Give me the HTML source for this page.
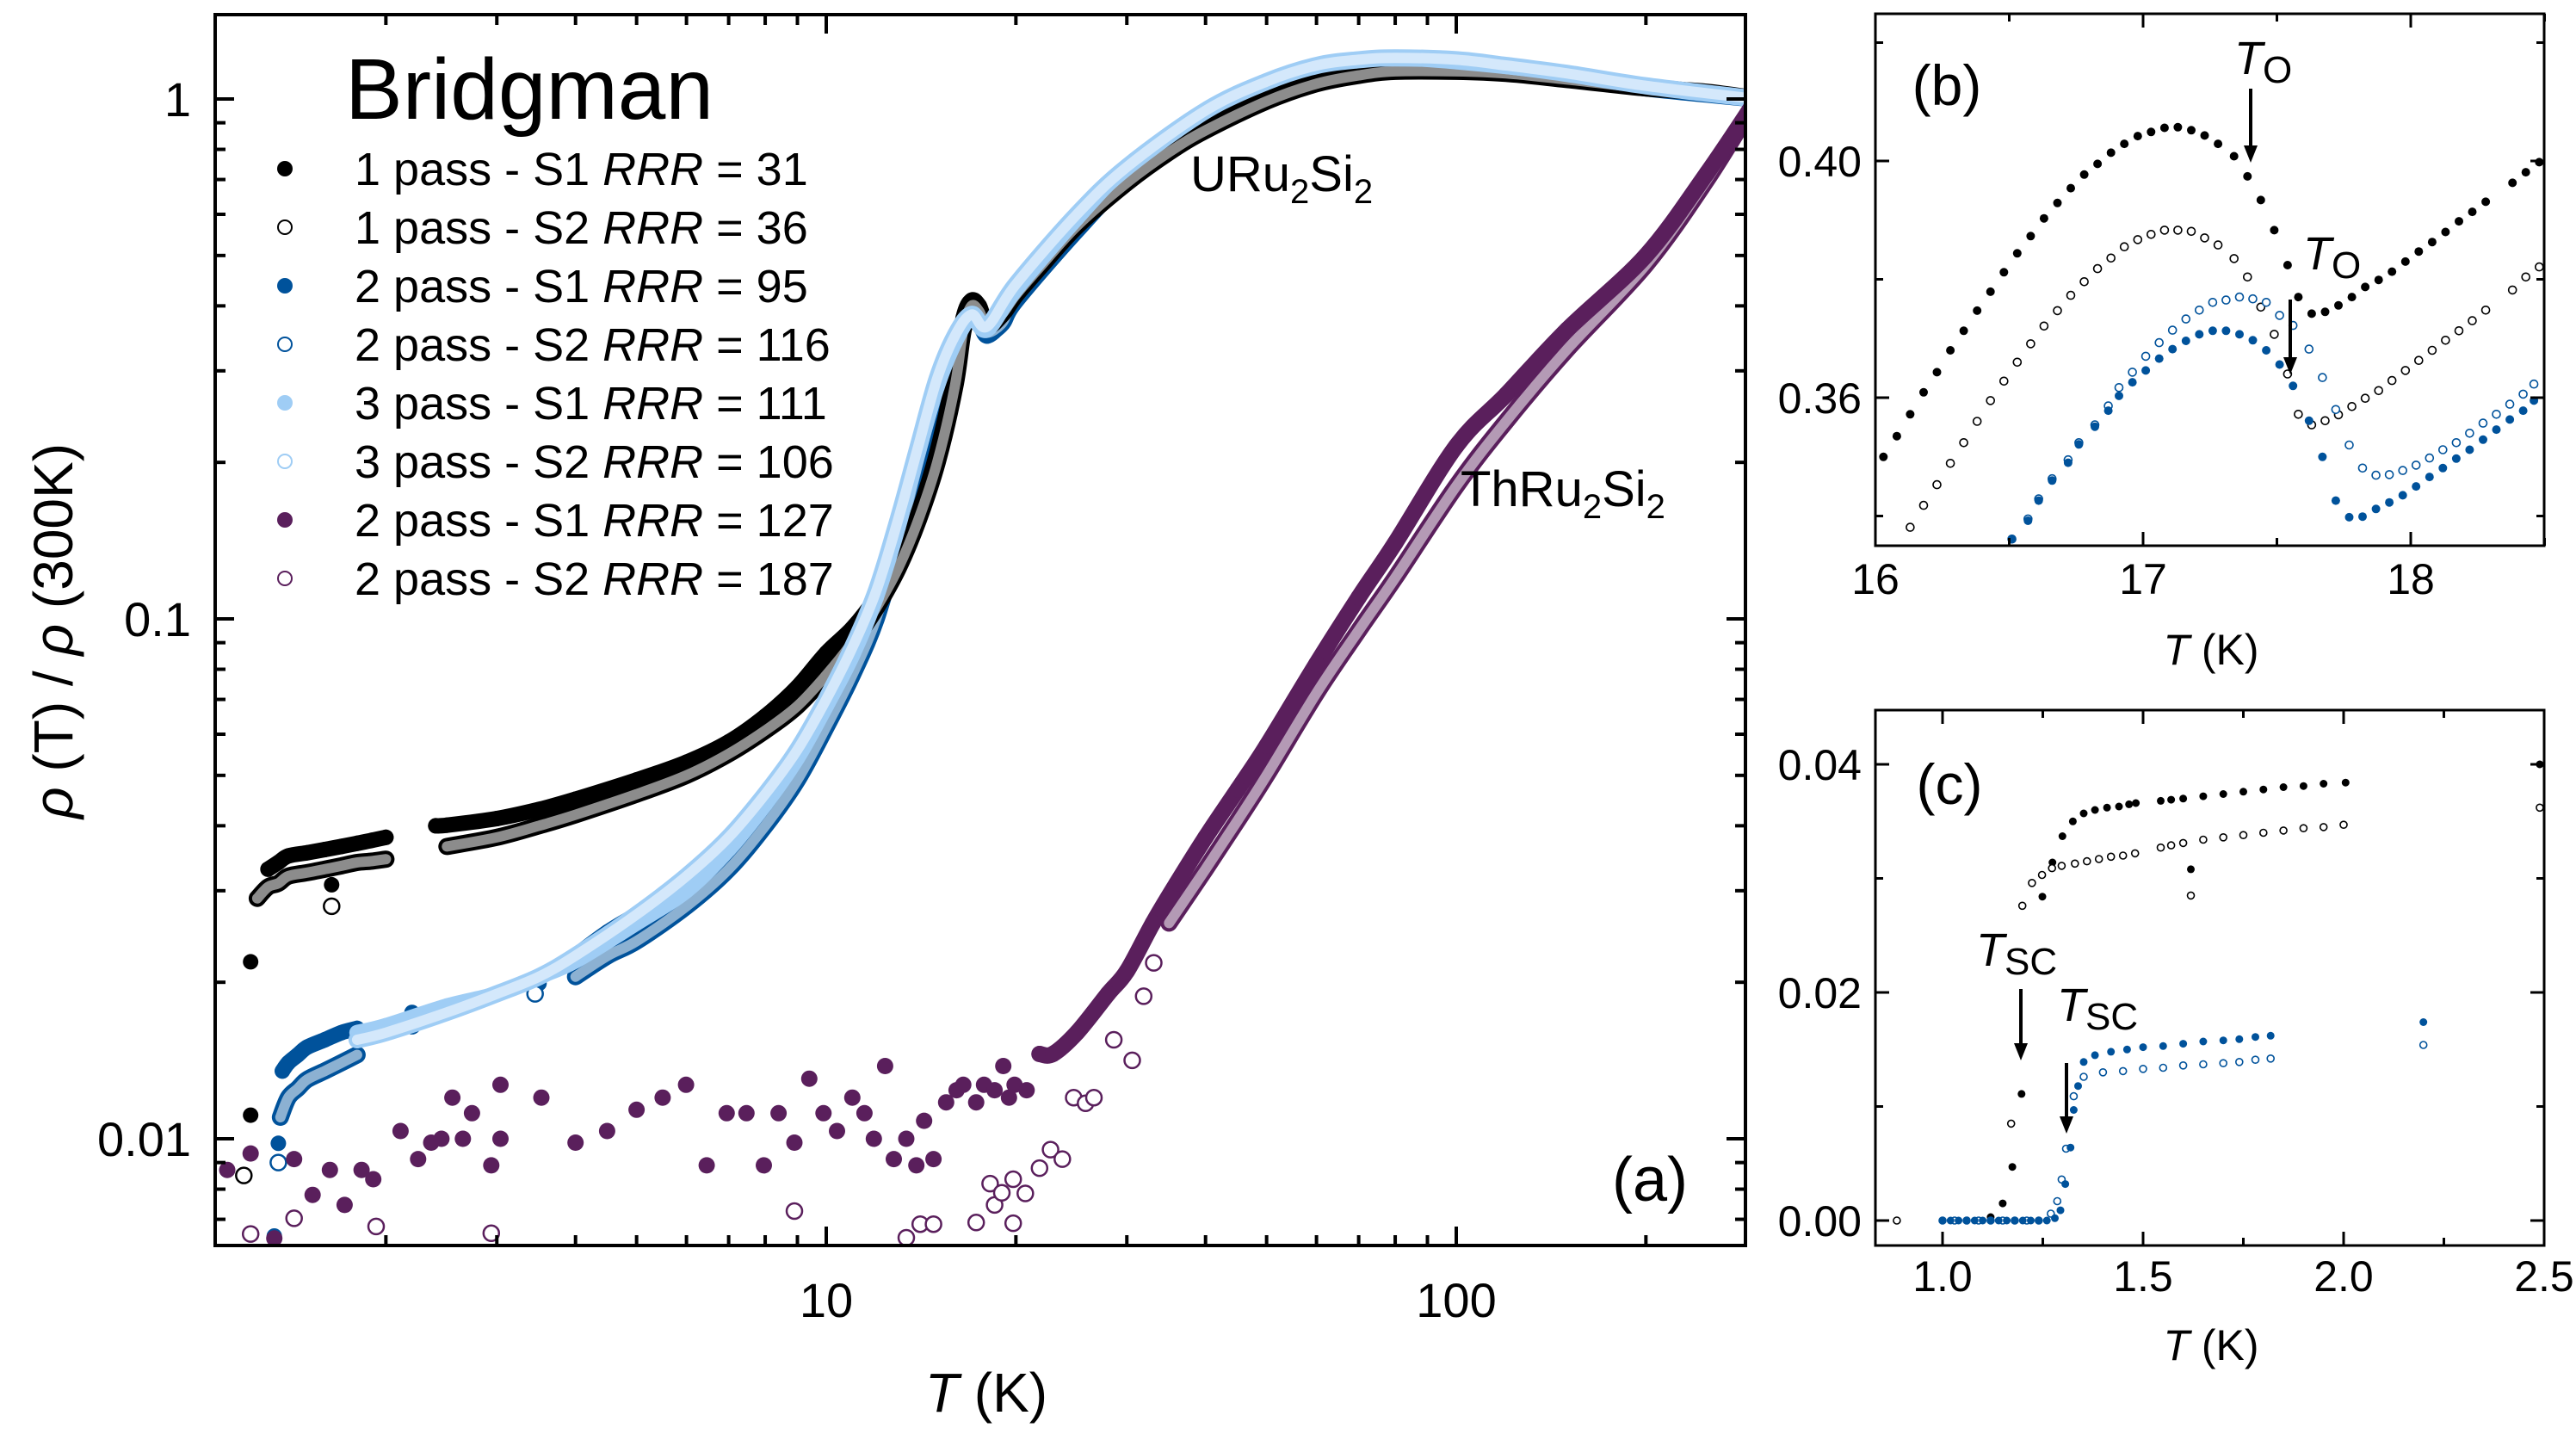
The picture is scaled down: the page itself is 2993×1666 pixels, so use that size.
<!DOCTYPE html>
<html><head><meta charset="utf-8"><style>
html,body{margin:0;padding:0;background:#fff;}
svg{display:block;font-family:"Liberation Sans",Arial,sans-serif;}
</style></head><body>
<svg id="fig" width="2993" height="1666" viewBox="0 0 2993 1666" xmlns="http://www.w3.org/2000/svg">
<defs>
<clipPath id="clipA"><rect x="250" y="17" width="1778" height="1430"/></clipPath>
<clipPath id="clipB"><rect x="2179" y="16" width="777" height="618"/></clipPath>
<clipPath id="clipC"><rect x="2179" y="825" width="777" height="622"/></clipPath>
</defs>
<g id="gA"></g>
<g id="gB"></g>
<g id="gC"></g>
</svg>
<script>
// ===== Panel (a) data =====
const bkF1T=[1.3,1.35,1.4,1.5,1.6,1.7,1.8,1.9,2.0];
const bkF1V=[0.033,0.034,0.035,0.0355,0.036,0.0365,0.037,0.0375,0.038];
const bkF2T=[2.4,2.5,3,3.5,4,5,6,7,8,9,10,11,12,13,14,15,16,16.5,17,17.5,18,19,20,22,25,30,35,40,50,60,70,80,100,120,150,200,250,300];
const bkF2V=[0.040,0.0401,0.0413,0.043,0.045,0.049,0.053,0.058,0.065,0.074,0.086,0.096,0.11,0.13,0.16,0.21,0.30,0.38,0.41,0.40,0.37,0.39,0.43,0.49,0.58,0.70,0.80,0.88,1.0,1.08,1.12,1.14,1.14,1.13,1.10,1.06,1.03,1.0];
const bkFoT=[1.22,1.22,1.64];
const bkFoV=[0.0219,0.0111,0.0308];
const bkO1T=[1.25,1.3,1.35,1.4,1.5,1.6,1.7,1.8,1.9,2.0];
const bkO1V=[0.029,0.0305,0.031,0.032,0.0325,0.033,0.0335,0.034,0.0342,0.0345];
const bkO2T=[2.5,3,3.5,4,5,6,7,8,9,10,11,12,13,14,15,16,16.5,17,17.5,18,19,20,22,25,30,35,40,50,60,70,80,100,120,150,200,250,300];
const bkO2V=[0.0365,0.038,0.040,0.042,0.046,0.050,0.055,0.061,0.068,0.078,0.090,0.105,0.125,0.155,0.20,0.28,0.36,0.40,0.39,0.365,0.385,0.42,0.48,0.57,0.69,0.79,0.87,0.99,1.07,1.11,1.13,1.13,1.12,1.09,1.05,1.03,1.0];
const bkOoT=[1.19,1.64];
const bkOoV=[0.0085,0.028];
const dbF1T=[1.37,1.4,1.45,1.5,1.6,1.7,1.8];
const dbF1V=[0.0135,0.014,0.0145,0.015,0.0155,0.016,0.0163];
const dbF2T=[4,4.5,5,5.5,6,7,8,9,10,11,12,13,14,15,16,17,17.5,18,19,20,25,30,40,50,60,80,100,150,200,300];
const dbF2V=[0.0225,0.025,0.027,0.029,0.031,0.035,0.041,0.050,0.063,0.080,0.105,0.145,0.21,0.28,0.35,0.38,0.37,0.35,0.37,0.41,0.56,0.70,0.90,1.03,1.10,1.15,1.15,1.10,1.05,1.0];
const dbFoT=[1.33,1.35,2.2,3.5];
const dbFoV=[0.0065,0.0098,0.0175,0.0199];
const dbO1T=[1.36,1.4,1.45,1.5,1.6,1.7,1.8];
const dbO1V=[0.011,0.012,0.0125,0.013,0.0135,0.014,0.0145];
const dbO2T=[4,4.5,5,6,7,8,9,10,11,12,13,14,15,16,17,17.5,18,19,20,25,30,40,50,60,80,100,150,200,300];
const dbO2V=[0.0205,0.0225,0.024,0.028,0.033,0.040,0.049,0.062,0.078,0.10,0.14,0.20,0.27,0.34,0.38,0.37,0.355,0.37,0.41,0.56,0.70,0.90,1.03,1.10,1.15,1.15,1.10,1.05,1.0];
const dbOoT=[1.35,2.2,3.45];
const dbOoV=[0.009,0.0165,0.019];
const lbFT=[1.8,2,2.5,3,3.5,4,5,6,7,8,9,10,11,12,13,14,15,16,17,18,20,25,30,40,50,60,70,80,100,150,200,300];
const lbFV=[0.016,0.0165,0.018,0.019,0.0205,0.022,0.026,0.030,0.036,0.044,0.054,0.068,0.085,0.11,0.15,0.21,0.28,0.34,0.38,0.36,0.43,0.59,0.74,0.95,1.08,1.16,1.19,1.20,1.18,1.12,1.06,1.0];
const lbOT=[1.8,2,2.5,3,3.5,4,5,6,7,8,9,10,11,12,13,14,15,16,17,18,20,25,30,40,50,60,70,80,100,120,150,200,300];
const lbOV=[0.0155,0.016,0.0175,0.019,0.0205,0.0225,0.027,0.032,0.038,0.046,0.056,0.070,0.088,0.113,0.155,0.215,0.29,0.35,0.385,0.365,0.44,0.60,0.74,0.95,1.08,1.16,1.19,1.20,1.19,1.16,1.12,1.06,1.0];
const puFnT=[1.12,1.22,1.33,1.43,1.53,1.63,1.72,1.83,1.91,2.11,2.25,2.36,2.45,2.55,2.65,2.74,2.94,3.04,3.04,3.53,4.0,4.49,5.0,5.5,5.99,6.46,6.95,7.47,7.96,8.4,8.9,9.4,9.9,10.4,11.0,11.5,11.9,12.4,12.8,13.4,13.9,14.3,14.8,15.5,16.1,16.5,17.3,17.8,18.5,19.1,19.5,19.9,20.8];
const puFnV=[0.00871,0.00937,0.00643,0.00914,0.0078,0.00871,0.00746,0.00871,0.00836,0.01035,0.00914,0.00983,0.0100,0.0120,0.0100,0.0112,0.00889,0.0127,0.0100,0.0120,0.00983,0.01035,0.01137,0.0120,0.0127,0.00889,0.0112,0.0112,0.00889,0.0112,0.00983,0.01305,0.0112,0.01035,0.0120,0.0112,0.0100,0.0138,0.00914,0.0100,0.00889,0.01083,0.00914,0.01175,0.0124,0.0127,0.01175,0.0127,0.0124,0.0138,0.0120,0.0127,0.0124];
const puFcT=[21.8,22.9,25,28,30,33,36,40,45,50,60,70,80,100,120,150,200,250,300];
const puFcV=[0.01456,0.01456,0.016,0.019,0.021,0.026,0.031,0.038,0.047,0.057,0.082,0.11,0.14,0.215,0.27,0.36,0.50,0.72,1.0];
const puOnT=[1.22,1.43,1.93,2.94,8.9,13.4,14.1,14.8,17.3,18.2,18.5,19.0,19.8,19.8,20.7,21.8,22.7,23.7,24.7,25.8,26.6,28.6,30.6,31.9,33.1];
const puOnV=[0.00656,0.00703,0.00678,0.00658,0.00726,0.00645,0.00685,0.00685,0.0069,0.0082,0.00746,0.00787,0.00836,0.00688,0.00785,0.00878,0.00953,0.00914,0.0120,0.0117,0.0120,0.0155,0.01415,0.0188,0.0218];
const puOcT=[35,40,45,50,60,70,80,100,120,150,200,250,300];
const puOcV=[0.026,0.033,0.041,0.05,0.072,0.095,0.12,0.18,0.24,0.33,0.48,0.70,1.0];
const xTicksA=[10,100];
const xTickLabelsA=["10","100"];
const yTicksA=[0.01,0.1,1];
const yTickLabelsA=["0.01","0.1","1"];
const legendLabels=[["1 pass - S1 ","31"],["1 pass - S2 ","36"],["2 pass - S1 ","95"],["2 pass - S2 ","116"],["3 pass - S1 ","111"],["3 pass - S2 ","106"],["2 pass - S1 ","127"],["2 pass - S2 ","187"]];

// ===== Panel (b) data =====
const bBkFT=[16.03,16.08,16.13,16.18,16.23,16.28,16.33,16.38,16.43,16.48,16.53,16.58,16.63,16.68,16.73,16.78,16.83,16.88,16.93,16.98,17.03,17.08,17.13,17.18,17.23,17.28,17.34,17.39,17.44,17.49,17.54,17.58,17.63,17.68,17.73,17.78,17.83,17.88,17.93,17.98,18.03,18.08,18.13,18.18,18.23,18.28,18.38,18.43,18.48];
const bBkFV=[0.3500,0.3535,0.3572,0.3609,0.3643,0.3680,0.3713,0.3747,0.3779,0.3812,0.3844,0.3873,0.3903,0.3929,0.3954,0.3977,0.3995,0.4014,0.4029,0.4042,0.4049,0.4056,0.4057,0.4052,0.4043,0.4029,0.4008,0.3974,0.3934,0.3883,0.3824,0.3770,0.3742,0.3745,0.3756,0.3770,0.3787,0.3799,0.3813,0.3830,0.3847,0.3863,0.3880,0.3898,0.3914,0.3931,0.3963,0.3981,0.3998];
const bBkOT=[16.13,16.18,16.23,16.28,16.33,16.38,16.43,16.48,16.53,16.58,16.63,16.68,16.73,16.78,16.83,16.88,16.93,16.98,17.03,17.08,17.13,17.18,17.23,17.28,17.34,17.39,17.44,17.49,17.54,17.58,17.63,17.68,17.73,17.78,17.83,17.88,17.93,17.98,18.03,18.08,18.13,18.18,18.23,18.28,18.38,18.43,18.48];
const bBkOV=[0.3381,0.3418,0.3453,0.3489,0.3524,0.3560,0.3595,0.3628,0.3660,0.3691,0.3721,0.3747,0.3773,0.3796,0.3818,0.3836,0.3855,0.3867,0.3876,0.3883,0.3883,0.3881,0.3870,0.3858,0.3835,0.3804,0.3753,0.3707,0.3640,0.3572,0.3554,0.3561,0.3571,0.3585,0.3599,0.3612,0.3629,0.3646,0.3663,0.3680,0.3697,0.3713,0.3730,0.3748,0.3782,0.3804,0.3821];
const bDbT=[16.51,16.57,16.61,16.66,16.72,16.76,16.82,16.87,16.91,16.96,17.01,17.06,17.11,17.16,17.21,17.26,17.31,17.36,17.41,17.46,17.51,17.56,17.62,17.67,17.72,17.77,17.82,17.87,17.92,17.97,18.02,18.07,18.12,18.17,18.22,18.27,18.32,18.37,18.42,18.46];
const bDbFV=[0.3361,0.3392,0.3426,0.3460,0.3490,0.3521,0.3551,0.3578,0.3603,0.3626,0.3646,0.3666,0.3682,0.3696,0.3707,0.3713,0.3713,0.3707,0.3697,0.3680,0.3656,0.3620,0.3561,0.3500,0.3426,0.3398,0.3399,0.3412,0.3423,0.3435,0.3450,0.3466,0.3481,0.3497,0.3512,0.3529,0.3546,0.3563,0.3578,0.3595];
const bDbOV=[0.3361,0.3395,0.3429,0.3463,0.3495,0.3524,0.3554,0.3586,0.3617,0.3643,0.3670,0.3693,0.3714,0.3733,0.3748,0.3761,0.3765,0.3770,0.3767,0.3761,0.3739,0.3722,0.3682,0.3634,0.3580,0.3520,0.3481,0.3469,0.3470,0.3477,0.3486,0.3498,0.3512,0.3524,0.3540,0.3557,0.3572,0.3589,0.3606,0.3623];
const xTicksB=[16,17,18];
const yTicksB=[0.36,0.40];
const yTickLabelsB=["0.36","0.40"];

// ===== Panel (c) data =====
const cBkFT=[1.0,1.03,1.06,1.09,1.12,1.15,1.174,1.197,1.249,1.274,1.299,1.325,1.352,1.38,1.41,1.44,1.465,1.482,1.544,1.57,1.60,1.65,1.70,1.75,1.80,1.85,1.90,1.95,2.005,1.619,2.489];
const cBkFV=[0,0,0,0,0.0003,0.0015,0.0047,0.0111,0.0284,0.0314,0.0337,0.0350,0.0357,0.0360,0.0362,0.0363,0.0365,0.0366,0.0368,0.0369,0.0370,0.0372,0.0374,0.0376,0.0378,0.0380,0.0381,0.0383,0.0384,0.0308,0.0400];
const cBkOT=[0.886,1.171,1.199,1.223,1.248,1.273,1.297,1.33,1.36,1.39,1.42,1.45,1.48,1.544,1.57,1.60,1.65,1.70,1.75,1.80,1.85,1.90,1.95,2.0,1.619,2.489];
const cBkOV=[0,0.0085,0.0276,0.0296,0.0303,0.0309,0.0311,0.0313,0.0315,0.0317,0.0319,0.0320,0.0322,0.0327,0.0329,0.0331,0.0334,0.0336,0.0338,0.0340,0.0342,0.0344,0.0345,0.0347,0.0285,0.0362];
const cDbFT=[1.0,1.02,1.04,1.06,1.08,1.10,1.12,1.14,1.16,1.18,1.20,1.22,1.24,1.26,1.28,1.294,1.306,1.319,1.327,1.338,1.352,1.38,1.42,1.46,1.50,1.55,1.60,1.65,1.70,1.74,1.78,1.818,2.199];
const cDbFV=[0,0,0,0,0,0,0,0,0,0,0,0,0,0,0.0002,0.0009,0.0032,0.0064,0.0097,0.0118,0.0139,0.0145,0.0148,0.0150,0.0152,0.0153,0.0155,0.0157,0.0158,0.0159,0.0161,0.0162,0.0174];
const cDbOT=[1.0,1.03,1.06,1.09,1.12,1.15,1.18,1.21,1.24,1.27,1.286,1.297,1.308,1.327,1.352,1.40,1.45,1.50,1.55,1.60,1.65,1.70,1.74,1.78,1.818,2.199];
const cDbOV=[0,0,0,0,0,0,0,0,0,0.0006,0.0017,0.0036,0.0063,0.0109,0.0126,0.0130,0.0131,0.0133,0.0134,0.0136,0.0137,0.0138,0.0139,0.0141,0.0142,0.0154];
const xTicksC=[1.0,1.5,2.0,2.5];
const xTickLabelsC=["1.0","1.5","2.0","2.5"];
const yTicksC=[0,0.02,0.04];
const yTickLabelsC=["0.00","0.02","0.04"];

const BLACK="#000000", DBLUE="#00529b", LBLUE="#9fcdf5", PURPLE="#5a1f5c";
const NS="http://www.w3.org/2000/svg";
function mk(tag,attrs,parent){const e=document.createElementNS(NS,tag);for(const k in attrs)e.setAttribute(k,attrs[k]);if(parent)parent.appendChild(e);return e;}

const xA=t=>960+(Math.log10(t)-1)*732;
const yA=v=>115-Math.log10(v)*604;
const xB=t=>2179+(t-16)*311;
const yB=v=>187+(0.40-v)/0.04*275;
const xC=t=>2257+(t-1)*466;
const yC=v=>1418-(v/0.02)*265;

const gA=document.getElementById('gA'), gB=document.getElementById('gB'), gC=document.getElementById('gC');
const dA=mk('g',{'clip-path':'url(#clipA)'},gA);


const dB=mk('g',{'clip-path':'url(#clipB)'},gB);


const dC=mk('g',{'clip-path':'url(#clipC)'},gC);



function smoothPath(T,V,fx,fy){
  const P=T.map((t,i)=>[fx(t),fy(V[i])]);
  let d='M'+P[0][0].toFixed(1)+' '+P[0][1].toFixed(1);
  for(let i=0;i<P.length-1;i++){
    const p0=P[Math.max(0,i-1)],p1=P[i],p2=P[i+1],p3=P[Math.min(P.length-1,i+2)];
    const c1=[p1[0]+(p2[0]-p0[0])/6,p1[1]+(p2[1]-p0[1])/6];
    const c2=[p2[0]-(p3[0]-p1[0])/6,p2[1]-(p3[1]-p1[1])/6];
    d+='C'+c1[0].toFixed(1)+' '+c1[1].toFixed(1)+' '+c2[0].toFixed(1)+' '+c2[1].toFixed(1)+' '+p2[0].toFixed(1)+' '+p2[1].toFixed(1);
  }
  return d;
}
function tube(g,T,V,fx,fy,color,r,open,name){
  if(T.length<2)return;
  const d=smoothPath(T,V,fx,fy);
  const p=mk('path',{d:d,fill:'none',stroke:color,'stroke-width':2*r+(open?2:0),'stroke-linecap':'round','stroke-linejoin':'round'},g);
  
  
  if(open){const p2=mk('path',{d:d,fill:'none',stroke:'#fff','stroke-opacity':0.55,'stroke-width':2*r-6,'stroke-linecap':'round','stroke-linejoin':'round'},g);
    
    }
}
function pts(g,T,V,fx,fy,color,r,open,sw,name){
  T.forEach((t,i)=>{
    const c=mk('circle',{cx:fx(t).toFixed(1),cy:fy(V[i]).toFixed(1),r:r,fill:open?'#fff':color,stroke:color,'stroke-width':open?sw:0},g);
    
    
  });
}
function series(g,segs,outl,fx,fy,color,r,open,name){
  const sg=mk('g',{},g);
  
  
  segs.forEach(s=>{tube(sg,s[0],s[1],fx,fy,color,r,open,name);});
  if(!open)segs.forEach(s=>{pts(sg,s[0],s[1],fx,fy,color,r,open,2.5,name);});
  if(outl)pts(sg,outl[0],outl[1],fx,fy,color,r,open,2.5,name);
}
series(dA,[[dbF1T,dbF1V],[dbF2T,dbF2V]],[dbFoT,dbFoV],xA,yA,DBLUE,9,false,'series-2pass-s1-95');
series(dA,[[dbO1T,dbO1V],[dbO2T,dbO2V]],[dbOoT,dbOoV],xA,yA,DBLUE,9,true,'series-2pass-s2-116');
series(dA,[[bkF1T,bkF1V],[bkF2T,bkF2V]],[bkFoT,bkFoV],xA,yA,BLACK,9,false,'series-1pass-s1-31');
series(dA,[[bkO1T,bkO1V],[bkO2T,bkO2V]],[bkOoT,bkOoV],xA,yA,BLACK,9,true,'series-1pass-s2-36');
series(dA,[[lbFT,lbFV]],null,xA,yA,LBLUE,9,false,'series-3pass-s1-111');
series(dA,[[lbOT,lbOV]],null,xA,yA,LBLUE,9,true,'series-3pass-s2-106');
series(dA,[[puOcT,puOcV]],[puOnT,puOnV],xA,yA,PURPLE,9,true,'series-th-2pass-s2-187');
series(dA,[[puFcT,puFcV]],[puFnT,puFnV],xA,yA,PURPLE,9.5,false,'series-th-2pass-s1-127');

function ps(g,T,V,fx,fy,color,r,open,name){const sg=mk('g',{},g);
  
  
  pts(sg,T,V,fx,fy,color,r,open,1.6,name);}
ps(dB,bBkFT,bBkFV,xB,yB,BLACK,5,false,'b-1pass-s1');
ps(dB,bBkOT,bBkOV,xB,yB,BLACK,4.5,true,'b-1pass-s2');
ps(dB,bDbT,bDbOV,xB,yB,DBLUE,4.5,true,'b-2pass-s2');
ps(dB,bDbT,bDbFV,xB,yB,DBLUE,5,false,'b-2pass-s1');
ps(dC,cBkFT,cBkFV,xC,yC,BLACK,4.5,false,'c-1pass-s1');
ps(dC,cBkOT,cBkOV,xC,yC,BLACK,4,true,'c-1pass-s2');
ps(dC,cDbOT,cDbOV,xC,yC,DBLUE,4,true,'c-2pass-s2');
ps(dC,cDbFT,cDbFV,xC,yC,DBLUE,4.5,false,'c-2pass-s1');

function line(g,x1,y1,x2,y2,w,name){const l=mk('line',{x1:x1,y1:y1,x2:x2,y2:y2,stroke:'#000','stroke-width':w},g);
  
  return l;}
function text(g,x,y,s,size,anchor,name){const t=mk('text',{x:x,y:y,'font-size':size,'text-anchor':anchor||'middle',fill:'#000'},g);t.textContent=s;
  
  return t;}
function frame(g,L,T,R,B,w,name){const r=mk('rect',{x:L,y:T,width:R-L,height:B-T,fill:'none',stroke:'#000','stroke-width':w},g);
  
  }
frame(gA,250,17,2028,1447,4,'panel-a-frame');
for(let dec=1;dec<=100;dec*=10){for(let m=1;m<10;m++){const t=dec*m;if(t>290)continue;const x=xA(t);if(x<250)continue;const len=m===1?22:12;
  line(gA,x,1447,x,1447-len,4,'x-tick');line(gA,x,17,x,17+len,4,'x-tick-top');}}
for(let dec=0.001;dec<=1;dec*=10){for(let m=1;m<10;m++){const v=dec*m;const y=yA(v);if(y<17||y>1447)continue;const len=m===1?22:12;
  line(gA,250,y,250+len,y,4,'y-tick');line(gA,2028,y,2028-len,y,4,'y-tick-right');}}
xTicksA.forEach((t,i)=>text(gA,xA(t),1530,xTickLabelsA[i],56,'middle','x-tick-label'));
yTicksA.forEach((v,i)=>text(gA,222,yA(v)+20,yTickLabelsA[i],56,'end','y-tick-label'));
const xt=text(gA,1146,1640,'',64,'middle','x-axis-title');xt.innerHTML='<tspan font-style="italic">T</tspan> (K)';
const yt=text(gA,0,0,'',64,'middle','y-axis-title');yt.setAttribute('transform','translate(84,733) rotate(-90)');
yt.innerHTML='<tspan font-style="italic">ρ</tspan> (T) / <tspan font-style="italic">ρ</tspan> (300K)';
text(gA,401,138,'Bridgman',100,'start','legend-title');
const legColors=[BLACK,BLACK,DBLUE,DBLUE,LBLUE,LBLUE,PURPLE,PURPLE];
legendLabels.forEach((lab,i)=>{const y=196+68*i;const open=i%2===1;
  const c=mk('circle',{cx:331,cy:y,r:open?8:9,fill:open?'#fff':legColors[i],stroke:legColors[i],'stroke-width':open?2:0},gA);
  
  
  const t=text(gA,412,y+19,'',54,'start','legend-entry');
  t.innerHTML=lab[0]+'<tspan font-style="italic">RRR</tspan> = '+lab[1];});
const u=text(gA,1383,222,'',58,'start','label-uru2si2');u.innerHTML='URu<tspan font-size="40" dy="14">2</tspan><tspan dy="-14">Si</tspan><tspan font-size="40" dy="14">2</tspan>';
const th=text(gA,1697,588,'',58,'start','label-thru2si2');th.innerHTML='ThRu<tspan font-size="40" dy="14">2</tspan><tspan dy="-14">Si</tspan><tspan font-size="40" dy="14">2</tspan>';
text(gA,1917,1395,'(a)',72,'middle','panel-a-label');

frame(gB,2179,16,2956,634,3,'panel-b-frame');
[16,16.5,17,17.5,18,18.5].forEach(t=>{const x=xB(t);const len=(t%1===0)?16:9;line(gB,x,634,x,634-len,3,'x-tick');line(gB,x,16,x,16+len,3,'x-tick-top');});
[0.34,0.36,0.38,0.40,0.42].forEach(v=>{const y=yB(v);const len=(Math.round(v*100)%4===0)?16:9;line(gB,2179,y,2179+len,y,3,'y-tick');line(gB,2956,y,2956-len,y,3,'y-tick-right');});
xTicksB.forEach(t=>text(gB,xB(t),690,String(t),50,'middle','x-tick-label'));
yTicksB.forEach((v,i)=>text(gB,2163,yB(v)+18,yTickLabelsB[i],50,'end','y-tick-label'));
const bt=text(gB,2569,772,'',50,'middle','x-axis-title');bt.innerHTML='<tspan font-style="italic">T</tspan> (K)';
text(gB,2262,122,'(b)',66,'middle','panel-b-label');
const to1=text(gB,2596,86,'',54,'start','label-to-1');to1.innerHTML='<tspan font-style="italic">T</tspan><tspan font-size="44" dy="10">O</tspan>';
const to2=text(gB,2676,313,'',54,'start','label-to-2');to2.innerHTML='<tspan font-style="italic">T</tspan><tspan font-size="44" dy="10">O</tspan>';
function arrow(g,x,y1,y2,name){line(g,x,y1,x,y2-14,4,name);const p=mk('path',{d:`M${x-8} ${y2-20}L${x+8} ${y2-20}L${x} ${y2}Z`,fill:'#000'},g);
  
  }
arrow(gB,2615,103,189,'arrow-to-1');
arrow(gB,2661,348,435,'arrow-to-2');

frame(gC,2179,825,2956,1447,3,'panel-c-frame');
[1.0,1.25,1.5,1.75,2.0,2.25,2.5].forEach(t=>{const x=xC(t);const len=(Math.round(t*100)%50===0)?16:9;line(gC,x,1447,x,1447-len,3,'x-tick');line(gC,x,825,x,825+len,3,'x-tick-top');});
[0,0.01,0.02,0.03,0.04].forEach(v=>{const y=yC(v);const len=(Math.round(v*100)%2===0)?16:9;line(gC,2179,y,2179+len,y,3,'y-tick');line(gC,2956,y,2956-len,y,3,'y-tick-right');});
xTicksC.forEach((t,i)=>text(gC,xC(t),1500,xTickLabelsC[i],50,'middle','x-tick-label'));
yTicksC.forEach((v,i)=>text(gC,2163,yC(v)+18,yTickLabelsC[i],50,'end','y-tick-label'));
const ct=text(gC,2569,1580,'',50,'middle','x-axis-title');ct.innerHTML='<tspan font-style="italic">T</tspan> (K)';
text(gC,2265,934,'(c)',66,'middle','panel-c-label');
const ts1=text(gC,2296,1122,'',54,'start','label-tsc-1');ts1.innerHTML='<tspan font-style="italic">T</tspan><tspan font-size="44" dy="10">SC</tspan>';
const ts2=text(gC,2390,1186,'',54,'start','label-tsc-2');ts2.innerHTML='<tspan font-style="italic">T</tspan><tspan font-size="44" dy="10">SC</tspan>';
arrow(gC,2348,1149,1232,'arrow-tsc-1');
arrow(gC,2401,1235,1317,'arrow-tsc-2');
</script>
</body></html>
